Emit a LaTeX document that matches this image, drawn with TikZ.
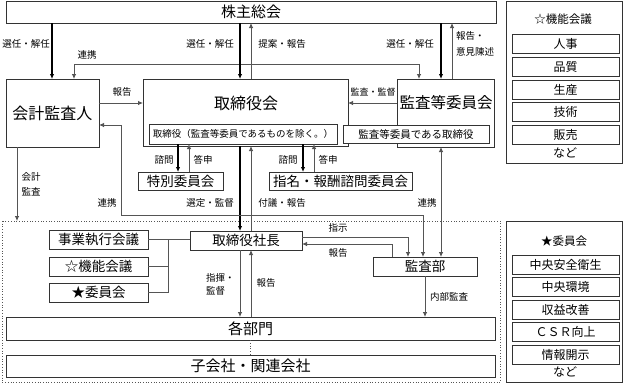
\documentclass[tikz,border=0pt]{standalone}
\usepackage{fontspec}
\setmainfont{Noto Sans CJK JP}
\usetikzlibrary{arrows.meta}
\definecolor{boxc}{HTML}{333333}
\definecolor{linec}{HTML}{555555}
\newcommand\rbox[6]{\node[bx, minimum width={#4-#2}, minimum height={#5-#3}] (#1) at (#2,#3) {#6};}
\newcommand\fs[1]{\fontsize{#1}{#1}\selectfont}
\tikzset{
  bx/.style={draw=boxc, line width=0.9pt, fill=white, inner sep=0pt, outer sep=0pt, anchor=north west},
  lab/.style={font=\fontsize{9.5}{15}\selectfont, inner sep=0pt},
  thk/.style={line width=1.5pt, draw=black},
  thn/.style={line width=0.8pt, draw=linec},
  arr/.style={-{Latex[length=5pt,width=4.5pt]}},
  dbl/.style={{Latex[length=5pt,width=4.5pt]}-{Latex[length=5pt,width=4.5pt]}},
}
\begin{document}
\begin{tikzpicture}[x=1pt,y=-1pt]
\useasboundingbox (0,0) rectangle (624,384);
% dotted region
\draw[line width=0.7pt, draw=linec, dotted] (2,221) rectangle (500,382.5);
% top
\rbox{gm}{6}{1}{496}{23}{\fs{15}株主総会}
\rbox{kaikei}{6}{79}{99}{147}{\fs{16}会計監査人}
\rbox{board}{143}{79}{348}{146}{}
\node[inner sep=0pt, font=\fs{16}] (boardt) at (246,103) {取締役会};
\rbox{acom}{397}{79}{494}{147}{}
\node[inner sep=0pt, font=\fs{15.5}] (acomt) at (446,103) {監査等委員会};
\rbox{dir}{149}{124}{337}{144}{\fs{9.5}取締役（監査等委員であるものを除く。）}
\rbox{adir}{343}{125}{489}{143}{\fs{10.5}監査等委員である取締役}
\rbox{sp}{138}{172}{223}{190}{\fs{13.5}特別委員会}
\rbox{nom}{269}{172}{412}{190}{\fs{13.5}指名・報酬諮問委員会}
% right panels
\rbox{pa}{506}{1}{622}{163}{}
\node[inner sep=0pt, font=\fs{11.5}] (pat) at (563,19) {☆機能会議};
\rbox{pa1}{512}{34}{619}{53}{\fs{12}人事}
\rbox{pa2}{512}{57}{619}{76}{\fs{12}品質}
\rbox{pa3}{512}{80}{619}{99}{\fs{12}生産}
\rbox{pa4}{512}{102}{619}{121}{\fs{12}技術}
\rbox{pa5}{512}{125}{619}{144}{\fs{12}販売}
\node[inner sep=0pt, font=\fs{12}] (pa6) at (565,153) {など};
\rbox{pb}{506}{221}{622}{382.5}{}
\node[inner sep=0pt, font=\fs{11.5}] (pbt) at (564,241) {★委員会};
\rbox{pb1}{512}{255}{619}{274}{\fs{12}中央安全衛生}
\rbox{pb2}{512}{277.5}{619}{296.5}{\fs{12}中央環境}
\rbox{pb3}{512}{300}{619}{319}{\fs{12}収益改善}
\rbox{pb4}{512}{322.5}{619}{341.5}{\fs{12}ＣＳＲ向上}
\rbox{pb5}{512}{345}{619}{364}{\fs{12}情報開示}
\node[inner sep=0pt, font=\fs{12}] (pb6) at (565,372) {など};
% lower
\rbox{pres}{190}{231}{302}{250}{\fs{13.5}取締役社長}
\rbox{jig}{49}{230}{148}{249}{\fs{13.5}事業執行会議}
\rbox{kino}{49}{257}{148}{276}{\fs{13.5}☆機能会議}
\rbox{iin}{49}{283}{148}{302}{\fs{13.5}★委員会}
\rbox{kansa}{373}{257}{477}{276}{\fs{13.5}監査部}
\rbox{bu}{6}{317}{495}{340}{\fs{15}各部門}
\rbox{sub}{6}{355}{495}{377}{\fs{15}子会社・関連会社}
\coordinate (dz) at (17,221);
% connectors top
\draw[thk,arr] (52,0 |- gm.south) -- (52,0 |- kaikei.north);
\draw[thn,dbl] (74,0 |- kaikei.north) -- (74,64) -- (419,64) -- (419,0 |- acom.north);
\draw[thn,arr] (kaikei.east |- 0,103) -- (board.west |- 0,103);
\draw[thk,arr] (240,0 |- gm.south) -- (240,0 |- board.north);
\draw[thn,arr] (251,0 |- board.north) -- (251,0 |- gm.south);
\draw[thk,arr] (441,0 |- gm.south) -- (441,0 |- acom.north);
\draw[thn,arr] (452,0 |- acom.north) -- (452,0 |- gm.south);
\draw[thn,arr] (acom.west |- 0,103) -- (board.east |- 0,103);
% advisory
\draw[thk,arr] (178,0 |- dir.south) -- (178,0 |- sp.north);
\draw[thn,arr] (189,0 |- sp.north) -- (189,0 |- dir.south);
\draw[thk,arr] (303,0 |- dir.south) -- (303,0 |- nom.north);
\draw[thn,arr] (314,0 |- nom.north) -- (314,0 |- dir.south);
% board - president
\draw[thk,arr] (240,0 |- board.south) -- (240,0 |- pres.north);
\draw[thn,arr] (251,0 |- pres.north) -- (251,0 |- board.south);
% cooperation
\draw[thn,dbl] (kaikei.east |- 0,125) -- (121,125) -- (121,215) -- (423,215) -- (423,0 |- kansa.north);
\draw[thn,dbl] (441,0 |- acom.south) -- (441,0 |- kansa.north);
\draw[thn,arr] (17,0 |- kaikei.south) -- (dz);
% president - audit dept
\draw[thn,arr] (pres.east |- 0,237) -- (408,237) -- (408,0 |- kansa.north);
\draw[thn,arr] (392,0 |- kansa.north) -- (392,244) -- (pres.east |- 0,244);
% meetings
\draw[thn] (jig.east) -- (pres.west |- jig.east);
\draw[thn] (kino.east) -- (168,0 |- kino.east);
\draw[thn] (iin.east) -- (168,0 |- iin.east);
\draw[thn] (168,0 |- jig.east) -- (168,0 |- iin.east);
% departments
\draw[thn,arr] (240,0 |- pres.south) -- (240,0 |- bu.north);
\draw[thn,arr] (251,0 |- bu.north) -- (251,0 |- pres.south);
\draw[thn,arr] (425,0 |- kansa.south) -- (425,0 |- bu.north);
\draw[thn,dotted] (250,0 |- bu.south) -- (250,0 |- sub.north);
% labels
\node[lab] (l1) at (26,44) {選任・解任};
\node[lab] (l2) at (87,55) {連携};
\node[lab] (l3) at (122,92) {報告};
\node[lab] (l4) at (210,44) {選任・解任};
\node[lab] (l5) at (282,44) {提案・報告};
\node[lab] (l6) at (410,44) {選任・解任};
\node[lab, anchor=west, align=left, font=\fontsize{9.5}{16}\selectfont] (l7) at (456,44) {報告・\\意見陳述};
\node[lab, font=\fs{9}] (l8) at (373,92) {監査・監督};
\node[lab] (l9) at (164,160) {諮問};
\node[lab] (l10) at (203,160) {答申};
\node[lab] (l11) at (288,160) {諮問};
\node[lab] (l12) at (328,160) {答申};
\node[lab] (l13) at (210,203) {選定・監督};
\node[lab] (l14) at (282,203) {付議・報告};
\node[lab] (l15) at (107,203) {連携};
\node[lab] (l16) at (427,203) {連携};
\node[lab, align=center] (l17) at (31,184.5) {会計\\監査};
\node[lab] (l18) at (338,228) {指示};
\node[lab] (l19) at (338,253) {報告};
\node[lab, anchor=west, align=left, font=\fontsize{9.5}{13}\selectfont] (l20) at (206,284.5) {指揮・\\監督};
\node[lab] (l21) at (266,283) {報告};
\node[lab] (l22) at (449,297) {内部監査};
\end{tikzpicture}
\end{document}
